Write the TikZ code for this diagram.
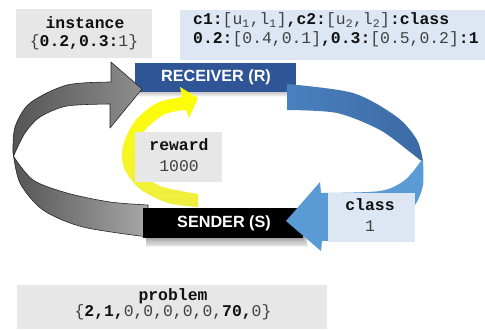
\documentclass[tikz,border=0pt]{standalone}
\usepackage{fontspec}
\setmainfont{Liberation Sans}
\newfontfamily\monofam{Liberation Mono}
\usetikzlibrary{positioning}

\definecolor{boxgray}{HTML}{E7E7E7}
\definecolor{boxblue}{HTML}{DDE7F3}
\definecolor{recvblue}{HTML}{2F5597}
\definecolor{arcblue}{HTML}{4A80BF}
\definecolor{arcbluedark}{HTML}{3B6AA3}
\definecolor{arcbluelight}{HTML}{5B9BD5}
\definecolor{txtdark}{HTML}{111111}
\definecolor{txtreg}{HTML}{404040}
\definecolor{grayA}{HTML}{555555}
\definecolor{grayB}{HTML}{8E8E8E}
\definecolor{grayC}{HTML}{A8A8A8}
\definecolor{yelpale}{HTML}{EEEE44}

% regular (non-bold) part of a mono label
\newcommand\rg[1]{{\mdseries\color{txtreg}#1}}
\newcommand\sbs[1]{\textsubscript{#1}}

\tikzset{
  panel/.style={inner sep=0pt, anchor=north west},
  graypanel/.style={panel, fill=boxgray},
  bluepanel/.style={panel, fill=boxblue},
  monotxt/.style={anchor=base, inner sep=0pt, text=txtdark,
    font=\monofam\bfseries\fontsize{16.4bp}{19bp}\selectfont},
  bartxt/.style={text=white, inner sep=0pt,
    font=\bfseries\fontsize{16.2bp}{19bp}\selectfont},
  ribbon/.style={draw=black!85, line width=0.6bp, line join=round},
}

\begin{document}
\begin{tikzpicture}[x=1bp,y=-1bp]
\useasboundingbox (0,0) rectangle (485,329);
\fill[white] (0,0) rectangle (485,329);

% ---- label panels behind the cycle ----
\node[graypanel, minimum width=136bp, minimum height=49bp] (instbox) at (16,9) {};
\node[bluepanel, minimum width=305bp, minimum height=50bp] (descbox) at (180,10) {};

% ---- lower half of the grey ribbon (passes behind the sender bar) ----
\path[ribbon, left color=grayA, right color=grayC]
  plot[smooth] coordinates {(13,152) (20,183) (43,210) (83,227) (148,237)}
  -- plot[smooth] coordinates {(148,205) (110,202) (67,193) (33,180) (14,157)}
  -- cycle;

% ---- soft shadows under the two bars ----
\foreach \k in {1,...,8}{
  \fill[black, opacity=0.05] (146,236) rectangle (303+\k*0.6, 238+\k*1.1);
  \fill[black, opacity=0.03] (138,90) rectangle (296+\k*0.4, 91.5+\k*0.7);
}

% ---- receiver and sender bars ----
\node[panel, fill=recvblue, minimum width=161bp, minimum height=28.5bp] (recv) at (135,63) {};
\node[panel, fill=black, minimum width=160bp, minimum height=30bp] (send) at (143,208) {};
\node[bartxt] (recvlbl) at (216,77.5) {RECEIVER (R)};
\node[bartxt] (sendlbl) at (224,223.5) {SENDER (S)};

% ---- upper half of the grey ribbon with its head ----
\path[ribbon, left color=grayA, right color=grayB]
  (142,89) -- (111,62)
  -- plot[smooth] coordinates {(111,82) (67,85) (30,103) (15,127) (13,152)}
  -- plot[smooth] coordinates {(14,155) (25,133) (40,117) (67,106) (110,104)}
  -- (110,128) -- cycle;

% ---- blue ribbon: receiver -> sender ----
\path[left color=arcblue, right color=arcbluedark]
  plot[smooth] coordinates {(287,84) (353,93) (397,117) (417,140) (423,161)}
  -- plot[smooth] coordinates {(420,160) (410,152) (380,130) (337,113) (287,110)}
  -- cycle;
\path[fill=arcbluelight]
  (286,221) -- (320,182)
  -- plot[smooth] coordinates {(321,193) (380,191) (405,180) (421,161)}
  -- plot[smooth] coordinates {(423,161) (423,185) (415,205) (395,225) (360,238) (322,241)}
  -- (321,251) -- cycle;

% ---- yellow ribbon: sender -> receiver (reward) ----
\path[top color=yellow, bottom color=yelpale]
  (198,98) -- (180,87)
  -- plot[smooth] coordinates {(182,97) (157,103) (135,121) (123,146) (124,168) (140,189) (168,203) (198,207)}
  -- plot[smooth] coordinates {(198,194) (160,186) (140,170) (137,146) (145,130) (165,114) (186,110)}
  -- (189,118) -- cycle;

% ---- label panels in front of the cycle ----
\node[graypanel, minimum width=87bp, minimum height=50bp] (rewbox) at (135,132) {};
\node[bluepanel, minimum width=87bp, minimum height=49bp] (clsbox) at (328,193) {};
\node[graypanel, minimum width=310bp, minimum height=44bp] (probbox) at (17,285) {};

% ---- panel texts ----
\node[monotxt] (insthead) at (85,28.3) {instance};
\node[monotxt] (instval)  at (84,46.7) {\rg{\{}0.2,0.3:\rg{1\}}};

\node[monotxt, anchor=north west, align=left] (desc) at (193,12.5)
  {c1:\rg{[u\sbs{1},l\sbs{1}]},c2:\rg{[u\sbs{2},l\sbs{2}]}:class\\[-0.5bp]
   0.2:\rg{[0.4,0.1]},0.3:\rg{[0.5,0.2]}:1};

\node[monotxt] (rewhead) at (179,150.5) {reward};
\node[monotxt] (rewval)  at (179,171.7) {\rg{1000}};

\node[monotxt] (clshead) at (370,210.7) {class};
\node[monotxt] (clsval)  at (370,231.7) {\rg{1}};

\node[monotxt] (probhead) at (173,300) {problem};
\node[monotxt] (probval)  at (173,316.7) {\rg{\{}2,1,\rg{0,0,0,0,0,}70,\rg{0\}}};
\end{tikzpicture}
\end{document}
